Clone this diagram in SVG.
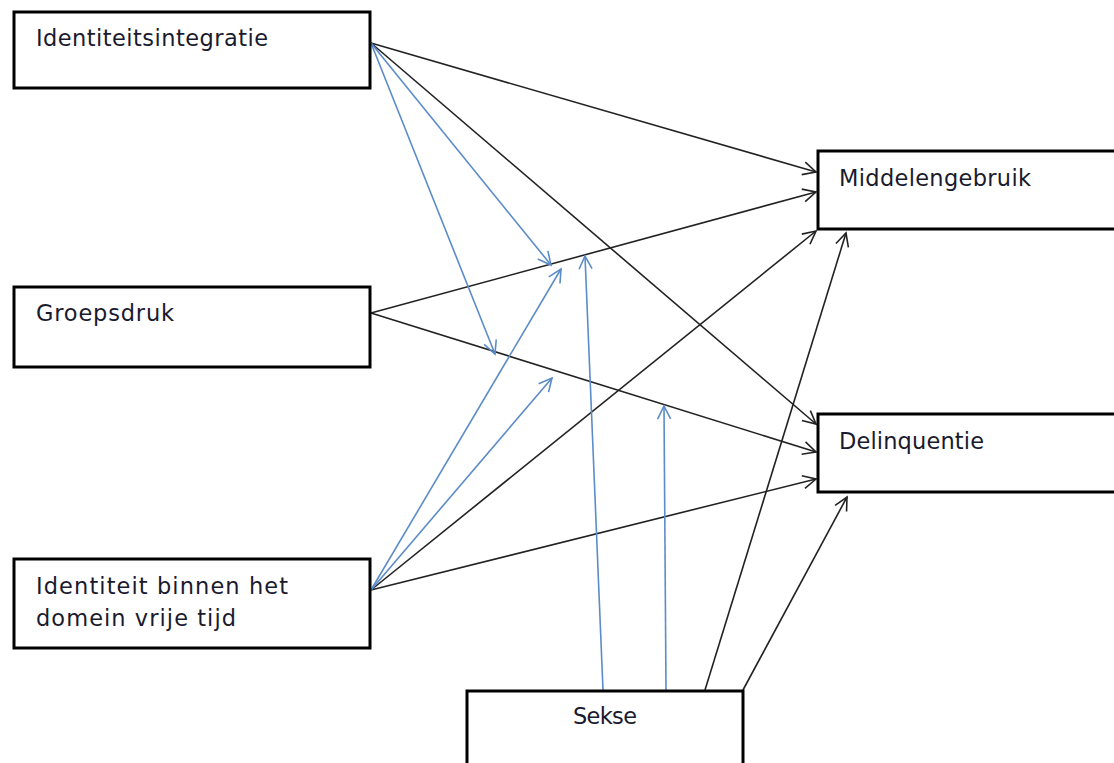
<svg xmlns="http://www.w3.org/2000/svg" width="1114" height="763" viewBox="0 0 1114 763">
<style>
.box{fill:#fff;stroke:#000;stroke-width:3}
.lbl{font-family:"DejaVu Sans",Verdana,sans-serif;font-size:22.5px;fill:#1a1a2e}
.k{stroke:#222;stroke-width:1.6;fill:none;marker-end:url(#ak)}
.b{stroke:#5b8cc8;stroke-width:1.6;fill:none;marker-end:url(#ab)}
</style>
<defs>
<marker id="ak" markerUnits="userSpaceOnUse" markerWidth="16" markerHeight="16" viewBox="0 0 16 16" refX="14" refY="8" orient="auto">
<path d="M1,1.5 L14,8 L1,14.5" fill="none" stroke="#222" stroke-width="1.6"/>
</marker>
<marker id="ab" markerUnits="userSpaceOnUse" markerWidth="16" markerHeight="16" viewBox="0 0 16 16" refX="14" refY="8" orient="auto">
<path d="M1,1.5 L14,8 L1,14.5" fill="none" stroke="#5b8cc8" stroke-width="1.6"/>
</marker>
</defs>
<rect width="1114" height="763" fill="#fff"/>
<g id="connectors">
<line class="k" x1="371" y1="43" x2="816" y2="172"/>
<line class="k" x1="371" y1="43" x2="816" y2="424"/>
<line class="k" x1="371" y1="313" x2="816" y2="192"/>
<line class="k" x1="371" y1="313" x2="816" y2="452"/>
<line class="k" x1="371" y1="590" x2="816" y2="231"/>
<line class="k" x1="371" y1="590" x2="816" y2="479"/>
<line class="k" x1="705" y1="690" x2="846" y2="233"/>
<line class="k" x1="743" y1="690" x2="847" y2="497"/>
<line class="b" x1="371" y1="43" x2="551" y2="265"/>
<line class="b" x1="371" y1="43" x2="495" y2="354"/>
<line class="b" x1="371" y1="590" x2="561" y2="269"/>
<line class="b" x1="371" y1="590" x2="552" y2="378"/>
<line class="b" x1="603" y1="690" x2="585" y2="256"/>
<line class="b" x1="666" y1="690" x2="664" y2="406"/>
</g>
<g id="identiteitsintegratie">
<rect class="box" x="14" y="12" width="356" height="76"/>
<text class="lbl" x="36" y="46" textLength="232" lengthAdjust="spacing">Identiteitsintegratie</text>
</g>
<g id="groepsdruk">
<rect class="box" x="14" y="287" width="356" height="80"/>
<text class="lbl" x="36" y="321" textLength="138" lengthAdjust="spacing">Groepsdruk</text>
</g>
<g id="identiteit-vrije-tijd">
<rect class="box" x="14" y="559" width="356" height="89"/>
<text class="lbl" x="36" y="594" textLength="252" lengthAdjust="spacing">Identiteit binnen het</text>
<text class="lbl" x="36" y="626" textLength="200" lengthAdjust="spacing">domein vrije tijd</text>
</g>
<g id="middelengebruik">
<rect class="box" x="818" y="151" width="310" height="78"/>
<text class="lbl" x="839" y="186" textLength="192" lengthAdjust="spacing">Middelengebruik</text>
</g>
<g id="delinquentie">
<rect class="box" x="818" y="414" width="310" height="78"/>
<text class="lbl" x="839" y="449" textLength="145" lengthAdjust="spacing">Delinquentie</text>
</g>
<g id="sekse">
<rect class="box" x="467" y="691" width="276" height="90"/>
<text class="lbl" x="573" y="724" textLength="64" lengthAdjust="spacing">Sekse</text>
</g>
</svg>
